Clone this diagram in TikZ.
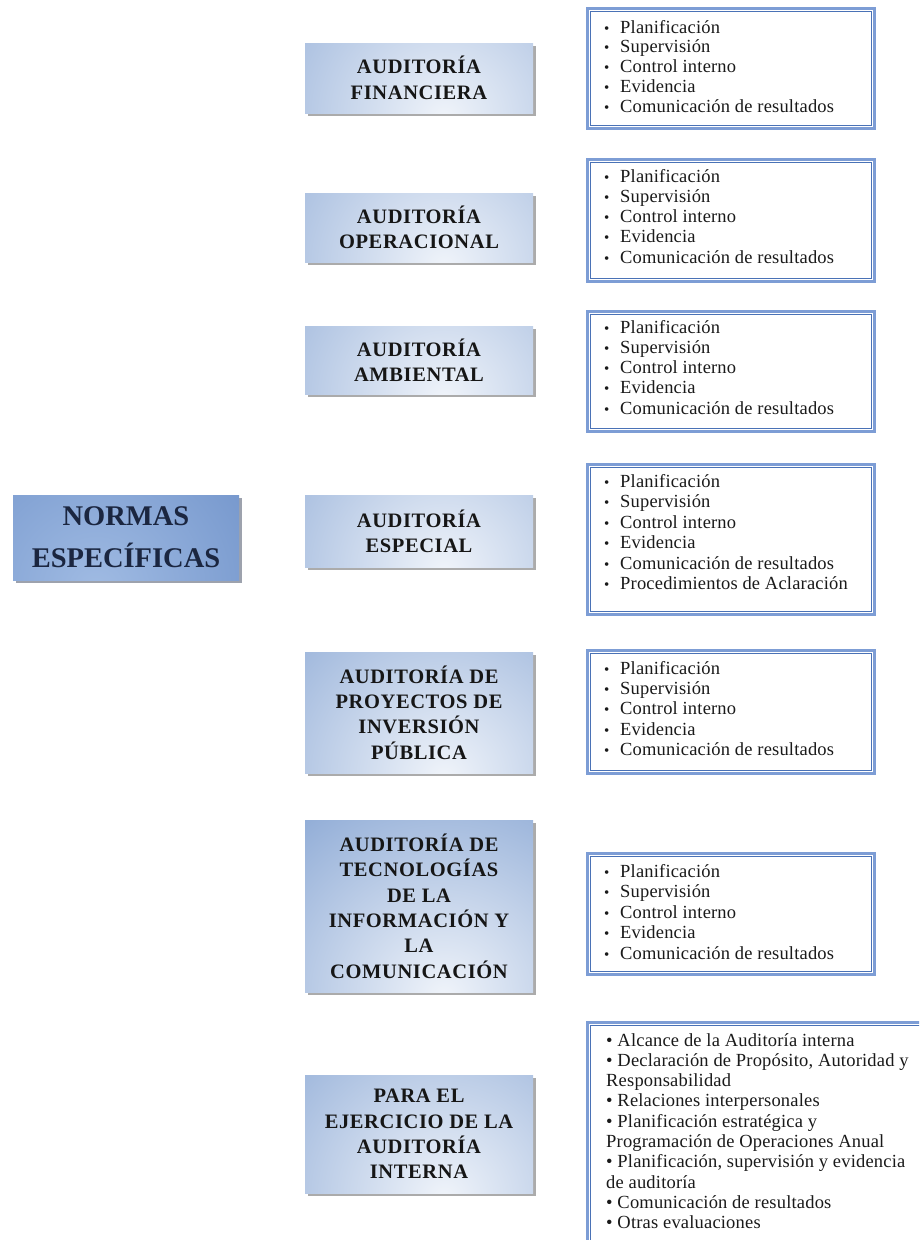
\documentclass[tikz,border=0pt]{standalone}
\usepackage{fontspec}
\setmainfont{Liberation Serif}
\usetikzlibrary{calc,shadows}

\definecolor{hdark}{HTML}{84A3D2}
\definecolor{hlight}{HTML}{F0F4FA}
\definecolor{bouter}{HTML}{7D9DD5}
\definecolor{binner}{HTML}{4A72B6}
\definecolor{ndark}{HTML}{5A80BE}
\definecolor{nlight}{HTML}{A0BBE3}
\definecolor{ntext}{HTML}{1B2640}
\definecolor{htext}{HTML}{161616}
\definecolor{ltext}{HTML}{1A1A1A}

\tikzset{
  headbox/.style={minimum width=228pt, inner sep=0pt, align=center,
    font=\fontsize{20.5}{25.4}\selectfont\bfseries\addfontfeature{LetterSpace=3}, text=htext,
    drop shadow={shadow xshift=2.5pt, shadow yshift=-2.5pt, fill=black!55, opacity=.6},
    path picture={\shade[inner color=hlight, outer color=hdark]
      ([xshift=25pt,yshift=-5pt]path picture bounding box.south) circle (260pt);}},
  normbox/.style={minimum width=226pt, minimum height=85pt, inner sep=0pt, align=center,
    font=\fontsize{28.5}{42}\selectfont\bfseries, text=ntext,
    drop shadow={shadow xshift=3pt, shadow yshift=-3pt, fill=ntext!85},
    path picture={\shade[inner color=nlight, outer color=ndark]
      ([xshift=-30pt,yshift=-10pt]path picture bounding box.south) circle (300pt);}},
  listbox/.style={draw=bouter, line width=2.5pt, fill=white, inner sep=0pt,
    anchor=north west, minimum width=287pt},
  innerline/.style={draw=binner, line width=0.9pt},
  bul/.style={anchor=base west, inner sep=0pt, font=\fontsize{15}{18}\selectfont, text=ltext},
  itm/.style={anchor=base west, inner sep=0pt,
    font=\fontsize{18.5}{20}\selectfont\addfontfeature{LetterSpace=1}, text=ltext},
}

% bulleted list: name, first baseline, line step, items
\newcommand\drawitems[4]{%
  \foreach \t [count=\i] in {#4}{%
    \node[bul] (#1b\i) at (604,{#2+(\i-1)*#3}) {\textbullet};
    \node[itm] (#1t\i) at (620,{#2+(\i-1)*#3}) {\t};
  }%
}
% double-ruled frame drawn inside a list box
\newcommand\innerframe[1]{%
  \draw[innerline] ($(#1.north west)+(4,4)$) rectangle ($(#1.south east)+(-4,-4)$);%
}

\begin{document}
\begin{tikzpicture}[x=1pt,y=-1pt]
\useasboundingbox (0,0) rectangle (919,1240);
\fill[white] (0,0) rectangle (919,1240);
\clip (0,0) rectangle (919,1240);

% main title
\node[normbox] (norm) at (126,537.5) {NORMAS\\ESPECÍFICAS};

% audit categories
\node[headbox, minimum height=70pt]  (fin) at (419,78)    {AUDITORÍA\\FINANCIERA};
\node[headbox, minimum height=69pt]  (ope) at (419,227.5) {AUDITORÍA\\OPERACIONAL};
\node[headbox, minimum height=68pt]  (amb) at (419,360)   {AUDITORÍA\\AMBIENTAL};
\node[headbox, minimum height=72pt]  (esp) at (419,531)   {AUDITORÍA\\ESPECIAL};
\node[headbox, minimum height=121pt] (pro) at (419,712.5) {AUDITORÍA DE\\PROYECTOS DE\\INVERSIÓN\\PÚBLICA};
\node[headbox, minimum height=172pt] (tec) at (419,906)   {AUDITORÍA DE\\TECNOLOGÍAS\\DE LA\\INFORMACIÓN Y\\LA\\COMUNICACIÓN};
\node[headbox, minimum height=118pt] (int) at (419,1134)  {PARA EL\\EJERCICIO DE LA\\AUDITORÍA\\INTERNA};

% list frames
\node[listbox, minimum height=120pt] (lb1) at (586,7)   {};
\node[listbox, minimum height=122pt] (lb2) at (586,158) {};
\node[listbox, minimum height=120pt] (lb3) at (586,310) {};
\node[listbox, minimum height=150pt] (lb4) at (586,463) {};
\node[listbox, minimum height=123pt] (lb5) at (586,649) {};
\node[listbox, minimum height=121pt] (lb6) at (586,852) {};
\node[listbox, minimum width=360pt, minimum height=240pt] (lb7) at (586,1021) {};
\foreach \b in {lb1,lb2,lb3,lb4,lb5,lb6,lb7}{\innerframe{\b}}

% list contents
\drawitems{la}{33}{19.8}{Planificación, Supervisión, Control interno, Evidencia, Comunicación de resultados}
\drawitems{lc}{182}{20.3}{Planificación, Supervisión, Control interno, Evidencia, Comunicación de resultados}
\drawitems{ld}{333}{20.3}{Planificación, Supervisión, Control interno, Evidencia, Comunicación de resultados}
\drawitems{le}{487}{20.5}{Planificación, Supervisión, Control interno, Evidencia, Comunicación de resultados, Procedimientos de Aclaración}
\drawitems{lf}{674}{20.4}{Planificación, Supervisión, Control interno, Evidencia, Comunicación de resultados}
\drawitems{lg}{877}{20.6}{Planificación, Supervisión, Control interno, Evidencia, Comunicación de resultados}

% internal audit list (running text lines)
\foreach \t [count=\i] in {%
  {\textbullet\ Alcance de la Auditoría interna},
  {\textbullet\ Declaración de Propósito, Autoridad y},
  {Responsabilidad},
  {\textbullet\ Relaciones interpersonales},
  {\textbullet\ Planificación estratégica y},
  {Programación de Operaciones Anual},
  {\textbullet\ Planificación, supervisión y evidencia},
  {de auditoría},
  {\textbullet\ Comunicación de resultados},
  {\textbullet\ Otras evaluaciones}}{%
  \node[itm] (lh\i) at (606,{1046+(\i-1)*20.3}) {\t};
}
\end{tikzpicture}
\end{document}
